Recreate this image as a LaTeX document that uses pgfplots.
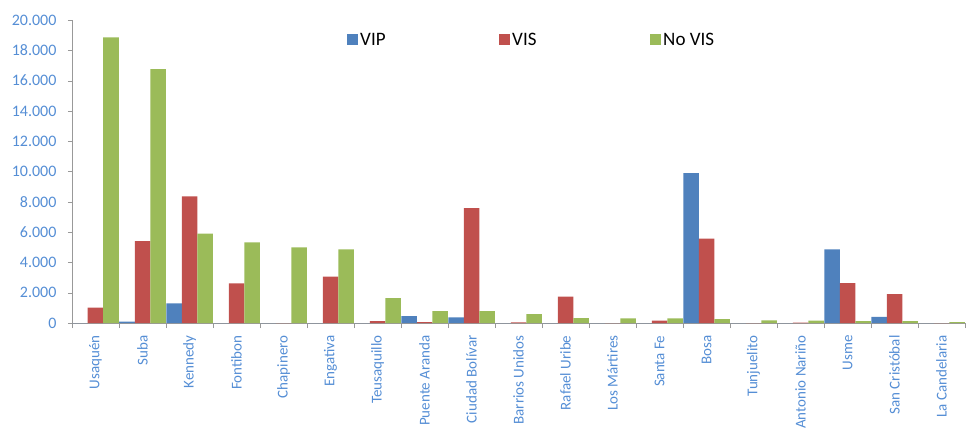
\documentclass[border=0pt]{standalone}
\usepackage{pgfplots}
\pgfplotsset{compat=1.18}
\usepackage{fontspec}
\setmainfont{Carlito}
\definecolor{cvip}{RGB}{79,129,189}
\definecolor{cvis}{RGB}{192,80,77}
\definecolor{cnovis}{RGB}{155,187,89}
\definecolor{lblue}{RGB}{85,142,213}
\begin{document}
\begin{tikzpicture}
\useasboundingbox (-72pt,-106pt) rectangle (896pt,323pt);
\begin{axis}[
  at={(0,0)}, anchor=south west,
  scale only axis, width=893pt, height=303pt,
  ybar=0pt, bar width=15.5pt,
  xmin=-0.5, xmax=18.5, ymin=0, ymax=20000,
  axis x line*=bottom, axis y line*=left,
  axis line style={-, draw=gray!80},
  xtick={0,...,18},
  major x tick style={draw=none},
  minor xtick={-0.5,0.5,...,18.5},
  minor x tick style={draw=gray!80},
  minor tick length=5pt,
  xticklabels={Usaquén,Suba,Kennedy,Fontibon,Chapinero,Engativa,Teusaquillo,Puente Aranda,Ciudad Bolívar,Barrios Unidos,Rafael Uribe,Los Mártires,Santa Fe,Bosa,Tunjuelito,Antonio Nariño,Usme,San Cristóbal,La Candelaria},
  xticklabel style={rotate=90, anchor=east, font=\fontsize{15}{17}\selectfont, text=lblue, xshift=-5pt},
  ytick={0,2000,...,20000},
  ytick style={draw=gray!80},
  tick align=outside,
  major tick length=4pt,
  yticklabel style={font=\fontsize{16}{18}\selectfont, text=lblue, xshift=-8pt},
  scaled y ticks=false,
  /pgf/number format/.cd, 1000 sep={.}, assume math mode=true,
  /pgfplots/.cd,
  legend columns=3,
  legend style={draw=none, fill=none, at={(0.308,0.934)}, anchor=west, inner sep=0pt,
    font=\fontsize{19}{21}\selectfont, /tikz/every even column/.append style={column sep=5pt}},
  legend image code/.code={\fill[#1] (0pt,-5.5pt) rectangle (11pt,5.5pt);},
]
\addplot[fill=cvip, draw=none] coordinates {(0,0) (1,90) (2,1300) (3,0) (4,0) (5,0) (6,0) (7,460) (8,370) (9,0) (10,0) (11,0) (12,0) (13,9900) (14,0) (15,0) (16,4860) (17,400) (18,0)};
\addplot[fill=cvis, draw=none] coordinates {(0,1010) (1,5410) (2,8360) (3,2620) (4,0) (5,3060) (6,130) (7,60) (8,7590) (9,40) (10,1740) (11,0) (12,150) (13,5570) (14,0) (15,20) (16,2640) (17,1910) (18,0)};
\addplot[fill=cnovis, draw=none] coordinates {(0,18860) (1,16750) (2,5900) (3,5320) (4,5000) (5,4860) (6,1650) (7,790) (8,790) (9,590) (10,330) (11,310) (12,310) (13,260) (14,180) (15,150) (16,130) (17,130) (18,60)};
\legend{\makebox[132pt][l]{VIP},\makebox[131pt][l]{VIS},No VIS}
\end{axis}
\end{tikzpicture}
\end{document}
